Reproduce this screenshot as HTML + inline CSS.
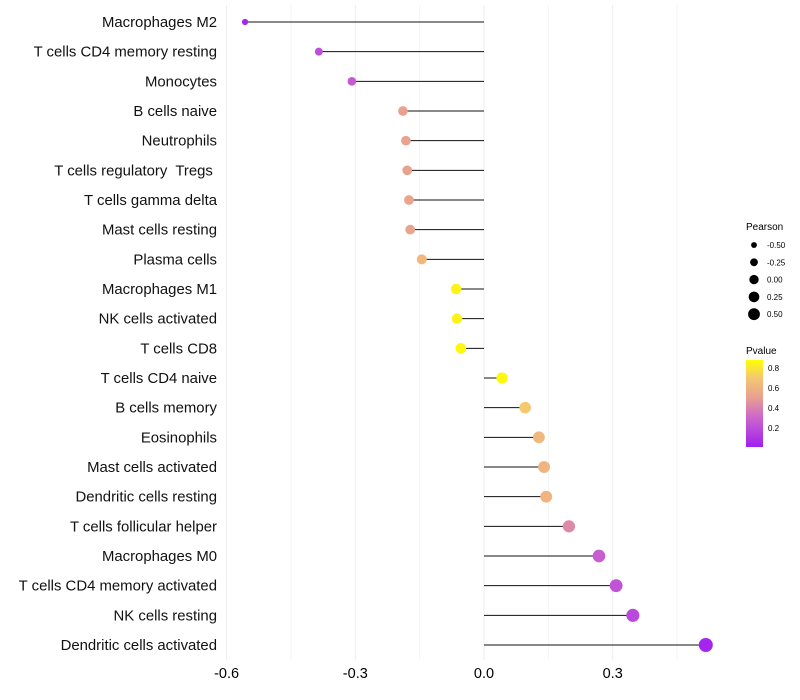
<!DOCTYPE html>
<html><head><meta charset="utf-8"><style>
body{margin:0;background:#fff;font-family:"Liberation Sans",Arial,sans-serif}
text{white-space:pre}
</style></head><body>
<svg id="chart" width="800" height="700" xmlns="http://www.w3.org/2000/svg" style="display:block">
<defs><linearGradient id="pg" x1="0" y1="1" x2="0" y2="0">
<stop offset="0" stop-color="#a020f0"/><stop offset="0.34" stop-color="#cc66cc"/><stop offset="0.57" stop-color="#e8a090"/><stop offset="0.8" stop-color="#f5c870"/><stop offset="1" stop-color="#ffff00"/></linearGradient></defs>
<g id="grid"></g><g id="marks"></g><g id="labels"></g><g id="legend"></g>
</svg>
<script>
const categories=["Macrophages M2","T cells CD4 memory resting","Monocytes","B cells naive","Neutrophils","T cells regulatory  Tregs ","T cells gamma delta","Mast cells resting","Plasma cells","Macrophages M1","NK cells activated","T cells CD8","T cells CD4 naive","B cells memory","Eosinophils","Mast cells activated","Dendritic cells resting","T cells follicular helper","Macrophages M0","T cells CD4 memory activated","NK cells resting","Dendritic cells activated"];
const pearson=[-0.557,-0.385,-0.308,-0.189,-0.182,-0.179,-0.175,-0.172,-0.145,-0.065,-0.063,-0.054,0.042,0.096,0.128,0.140,0.145,0.198,0.268,0.308,0.347,0.517];
const pvalue=[0.03,0.2,0.25,0.51,0.51,0.51,0.52,0.52,0.62,0.84,0.84,0.86,0.86,0.7,0.62,0.6,0.6,0.42,0.27,0.22,0.17,0.02];
const xTicks=[-0.6,-0.3,0.0,0.3];
const xMinor=[-0.45,-0.15,0.15,0.45];
const sizeLegend=[-0.5,-0.25,0,0.25,0.5];
const pTicks=[0.2,0.4,0.6,0.8];
const NS="http://www.w3.org/2000/svg";
const x=v=>484+v*429;
const y=i=>22+i*(623/21);
const r=p=>Math.sqrt(Math.max(2,30.1+36.6*p));
const stops=[[0,[160,32,240]],[0.3,[204,102,204]],[0.5,[232,160,144]],[0.7,[245,200,112]],[0.88,[255,255,0]]];
function col(p){for(let k=1;k<stops.length;k++){if(p<=stops[k][0]||k==stops.length-1){const a=stops[k-1],b=stops[k];let t=(p-a[0])/(b[0]-a[0]);t=Math.max(0,Math.min(1,t));return `rgb(${a[1].map((c,j)=>Math.round(c+(b[1][j]-c)*t)).join(",")})`;}}}
function mk(parent,tag,at,txt){const e=document.createElementNS(NS,tag);for(const k in at)e.setAttribute(k,at[k]);if(txt!=null)e.textContent=txt;document.getElementById(parent).appendChild(e);return e;}
xMinor.forEach(v=>{const e=mk("grid","line",{x1:x(v),x2:x(v),y1:5,y2:660,stroke:"#f4f4f4","stroke-width":1});

});
xTicks.forEach(v=>{const e=mk("grid","line",{x1:x(v),x2:x(v),y1:5,y2:660,stroke:"#ededed","stroke-width":1});


const t=mk("labels","text",{x:x(v),y:678,"text-anchor":"middle","font-size":14.5,fill:"#000"},v.toFixed(1));

});
categories.forEach((c,i)=>{const yy=y(i);
const l=mk("marks","line",{x1:x(0),x2:x(pearson[i]),y1:yy,y2:yy,stroke:"#111","stroke-width":1});


const d=mk("marks","circle",{cx:x(pearson[i]),cy:yy,r:r(pearson[i]),fill:col(pvalue[i])});


const t=mk("labels","text",{x:217,y:yy+5,"text-anchor":"end","font-size":14.9,fill:"#111"},c);

});
const pt=mk("legend","text",{x:746,y:230,"font-size":10},"Pearson");


sizeLegend.forEach((v,k)=>{const yy=245+k*17.3;
const c=mk("legend","circle",{cx:754,cy:yy,r:r(v)*0.85,fill:"#000"});


const t=mk("legend","text",{x:767,y:yy+3,"font-size":8},v.toFixed(2));

});
const ct=mk("legend","text",{x:746,y:354,"font-size":10},"Pvalue");


const bar=mk("legend","rect",{x:746,y:360,width:17,height:87,fill:"url(#pg)"});


pTicks.forEach(v=>{const yy=448-v*100;
const t=mk("legend","text",{x:768,y:yy+3,"font-size":8},v.toFixed(1));

});
</script>
</body></html>
